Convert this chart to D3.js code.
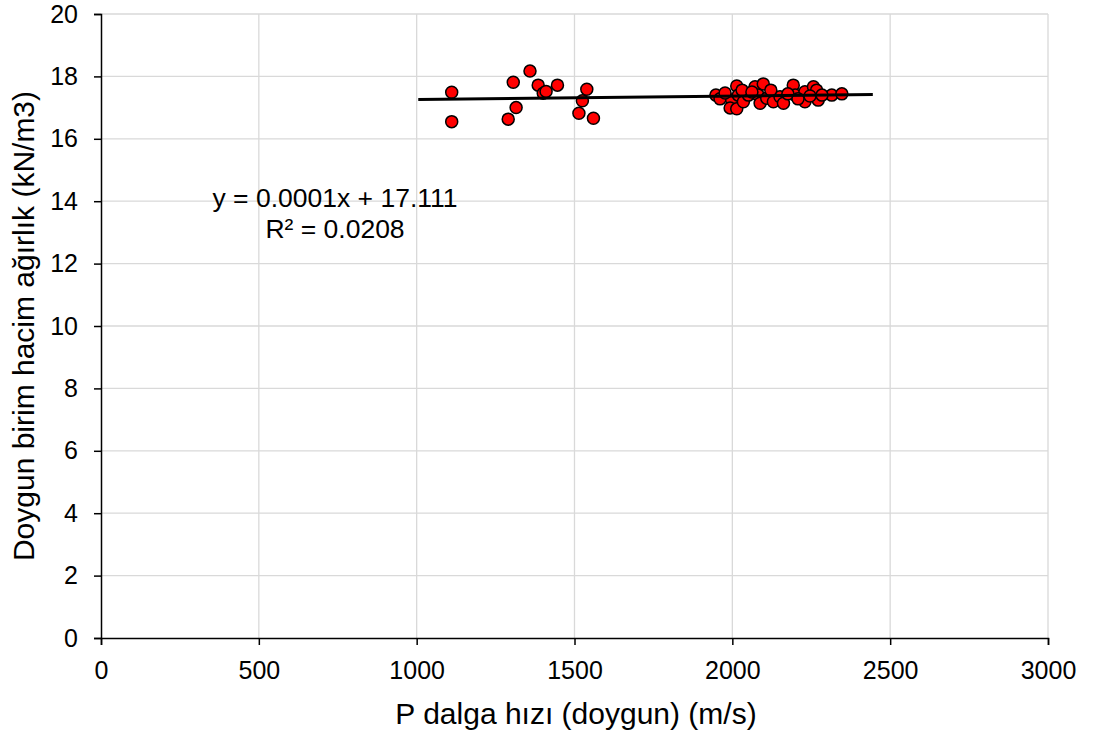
<!DOCTYPE html>
<html>
<head>
<meta charset="utf-8">
<script src="https://cdn.jsdelivr.net/npm/d3@7"></script>
<style>
  body { margin: 0; background: #fff; }
  svg { font-family: "Liberation Sans", Arial, sans-serif; }
</style>
</head>
<body>
<svg width="1094" height="735"></svg>
<script>
// P wave velocity (m/s) and saturated unit weight (kN/m3)
const pVel = [1111, 1111, 1306, 1359, 1385, 1401, 1410, 1446, 1315, 1290, 1539, 1525, 1514, 1560,
  1948, 1961, 1998, 1993, 2014, 2014, 2019, 2035, 2051, 2072, 2098, 2082, 2088, 2109, 2130, 2151,
  2162, 2193, 2199, 2230, 2230, 2257, 2267, 2272, 2315, 2347, 1977, 2031, 2062, 2122, 2176, 2208, 2246, 2284];
const unitWeight = [17.49, 16.55, 17.81, 18.17, 17.72, 17.46, 17.52, 17.72, 17.0, 16.63, 17.59, 17.22, 16.82, 16.66,
  17.40, 17.28, 17.24, 16.99, 16.96, 17.69, 17.40, 17.19, 17.40, 17.67, 17.76, 17.40, 17.14, 17.30, 17.19, 17.35,
  17.14, 17.72, 17.40, 17.51, 17.19, 17.67, 17.56, 17.24, 17.40, 17.44, 17.47, 17.56, 17.50, 17.56, 17.44, 17.28, 17.37, 17.40];

// trend line end points (with forecast on both sides)
const trendX = [1005, 2445];
const trendY = [17.26, 17.42];

const xTicks = [0, 500, 1000, 1500, 2000, 2500, 3000];
const yTicks = [0, 2, 4, 6, 8, 10, 12, 14, 16, 18, 20];
const eqLines = ["y = 0.0001x + 17.111", "R² = 0.0208"];

const svg = d3.select("svg");
const mLeft = 101, mRight = 1048, mTop = 14, mBottom = 638;

const x = d3.scaleLinear().domain([0, 3000]).range([mLeft, mRight]);
const y = d3.scaleLinear().domain([0, 20]).range([mBottom, mTop]);

// grid
svg.append("g").selectAll("line").data(xTicks.slice(1)).enter().append("line")
  .attr("x1", d => x(d)).attr("x2", d => x(d))
  .attr("y1", mTop).attr("y2", mBottom)
  .attr("stroke", "#d9d9d9").attr("stroke-width", 1.3);
svg.append("g").selectAll("line").data(yTicks.slice(1)).enter().append("line")
  .attr("x1", mLeft).attr("x2", mRight)
  .attr("y1", d => y(d)).attr("y2", d => y(d))
  .attr("stroke", "#d9d9d9").attr("stroke-width", 1.3);

// axes
const xAxis = svg.append("g").attr("transform", "translate(0," + mBottom + ")")
  .call(d3.axisBottom(x).tickValues(xTicks).tickFormat(d3.format("d")).tickSize(7).tickPadding(16));
const yAxis = svg.append("g").attr("transform", "translate(" + mLeft + ",0)")
  .call(d3.axisLeft(y).tickValues(yTicks).tickFormat(d3.format("d")).tickSize(7).tickPadding(16));
[xAxis, yAxis].forEach(a => {
  a.select(".domain").attr("stroke", "#000").attr("stroke-width", 1.5);
  a.selectAll(".tick line").attr("stroke", "#000").attr("stroke-width", 1.5);
  a.selectAll(".tick text").attr("fill", "#000")
    .style("font-size", "25px").style("font-family", "Liberation Sans, Arial, sans-serif");
});

// points
svg.append("g").selectAll("circle").data(pVel.map((d, i) => [d, unitWeight[i]]))
  .enter().append("circle")
  .attr("cx", d => x(d[0])).attr("cy", d => y(d[1])).attr("r", 6)
  .attr("fill", "#ff0000").attr("stroke", "#000").attr("stroke-width", 1.5);

// trend line
svg.append("path").datum(trendX.map((d, i) => [d, trendY[i]]))
  .attr("d", d3.line().x(d => x(d[0])).y(d => y(d[1])))
  .attr("stroke", "#000").attr("stroke-width", 3).attr("fill", "none");

// equation
svg.append("g").selectAll("text").data(eqLines).enter().append("text")
  .attr("x", 335).attr("y", (d, i) => 207 + i * 31)
  .attr("text-anchor", "middle").style("font-size", "26.5px")
  .text(d => d);

// axis titles
svg.append("text").attr("x", 576).attr("y", 724)
  .attr("text-anchor", "middle").style("font-size", "30px")
  .text("P dalga hızı (doygun) (m/s)");
svg.append("text")
  .attr("transform", "translate(34," + (mTop + mBottom) / 2 + ") rotate(-90)")
  .attr("text-anchor", "middle").style("font-size", "30px")
  .text("Doygun birim hacim ağırlık (kN/m3)");
</script>
</body>
</html>
